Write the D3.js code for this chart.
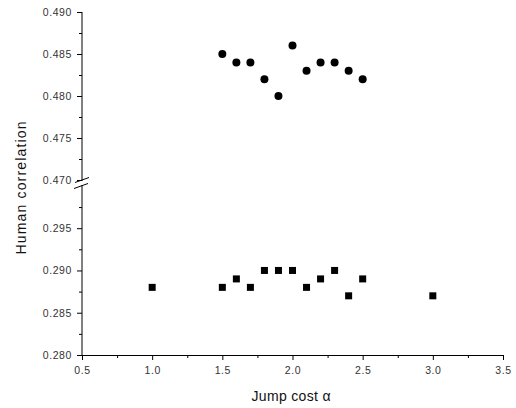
<!DOCTYPE html>
<html><head><meta charset="utf-8">
<script src="https://cdn.jsdelivr.net/npm/d3@7"></script>
<style>body{margin:0;background:#fff}svg{display:block}</style>
</head><body>
<svg id="c" width="516" height="408"></svg>
<script>
const circX = [1.5,1.6,1.7,1.8,1.9,2.0,2.1,2.2,2.3,2.4,2.5];
const circY = [0.485,0.484,0.484,0.482,0.480,0.486,0.483,0.484,0.484,0.483,0.482];
const sqX = [1.0,1.5,1.6,1.7,1.8,1.9,2.0,2.1,2.2,2.3,2.4,2.5,3.0];
const sqY = [0.288,0.288,0.289,0.288,0.290,0.290,0.290,0.288,0.289,0.290,0.287,0.289,0.287];
const xTicks = [0.5,1.0,1.5,2.0,2.5,3.0,3.5];
const yUpperTicks = [0.470,0.475,0.480,0.485,0.490];
const yLowerTicks = [0.280,0.285,0.290,0.295];
const xLabel = "Jump cost \u03b1";
const yLabel = "Human correlation";

const svg = d3.select("#c");
const x = d3.scaleLinear().domain([0.5,3.5]).range([82,503]);
const yU = d3.scaleLinear().domain([0.470,0.490]).range([180,12]);
const yL = d3.scaleLinear().domain([0.280,0.3007]).range([355,180]);
const font = "Arial, 'Liberation Sans', sans-serif";
const col = "#333";

// x axis
svg.append("g").attr("transform","translate(0,355)")
  .call(d3.axisBottom(x).tickValues(xTicks).tickFormat(d3.format(".1f")).tickSizeInner(5).tickSizeOuter(0).tickPadding(7));
svg.append("g").attr("transform","translate(0,355)")
  .call(d3.axisBottom(x).tickValues(d3.range(0.75,3.5,0.5)).tickFormat("").tickSizeInner(3).tickSizeOuter(0))
  .select(".domain").remove();

// y upper
const yUa = svg.append("g").attr("transform","translate(82,0)")
  .call(d3.axisLeft(yU).tickValues(yUpperTicks).tickFormat(d3.format(".3f")).tickSizeInner(5).tickSizeOuter(0).tickPadding(5));
yUa.select(".domain").attr("d","M0,12V181");
svg.append("g").attr("transform","translate(82,0)")
  .call(d3.axisLeft(yU).tickValues([0.4725,0.4775,0.4825,0.4875]).tickFormat("").tickSizeInner(3).tickSizeOuter(0))
  .select(".domain").remove();

// y lower
const yLa = svg.append("g").attr("transform","translate(82,0)")
  .call(d3.axisLeft(yL).tickValues(yLowerTicks).tickFormat(d3.format(".3f")).tickSizeInner(5).tickSizeOuter(0).tickPadding(5));
yLa.select(".domain").attr("d","M0,185V355");
svg.append("g").attr("transform","translate(82,0)")
  .call(d3.axisLeft(yL).tickValues([0.2825,0.2875,0.2925,0.2975]).tickFormat("").tickSizeInner(3).tickSizeOuter(0))
  .select(".domain").remove();

svg.selectAll(".tick text").attr("font-family",font).attr("font-size",10.5).attr("fill",col).attr("letter-spacing","0.6px");
svg.selectAll(".domain, .tick line").attr("stroke","#000").attr("stroke-width",1);

// break marks
const brk = svg.append("g").attr("stroke","#000").attr("stroke-width",1);
brk.append("line").attr("x1",75).attr("y1",182.5).attr("x2",89).attr("y2",177.5);
brk.append("line").attr("x1",74).attr("y1",188.5).attr("x2",88).attr("y2",183.5);

// data
svg.append("g").selectAll("circle").data(circX).join("circle")
  .attr("cx",(d)=>x(d)).attr("cy",(d,i)=>yU(circY[i])).attr("r",4).attr("fill","#000");
svg.append("g").selectAll("rect").data(sqX).join("rect")
  .attr("x",(d)=>x(d)-3.5).attr("y",(d,i)=>yL(sqY[i])-3.5).attr("width",7).attr("height",7).attr("fill","#000");

// labels
svg.append("text").attr("x",291).attr("y",401).attr("text-anchor","middle")
  .attr("font-family",font).attr("font-size",14).attr("fill","#111")
  .attr("textLength",79).attr("lengthAdjust","spacing").text(xLabel);
svg.append("text").attr("transform","translate(26,188) rotate(-90)").attr("text-anchor","middle")
  .attr("font-family",font).attr("font-size",14).attr("fill","#111")
  .attr("textLength",133).attr("lengthAdjust","spacing").text(yLabel);
</script>
</body></html>
